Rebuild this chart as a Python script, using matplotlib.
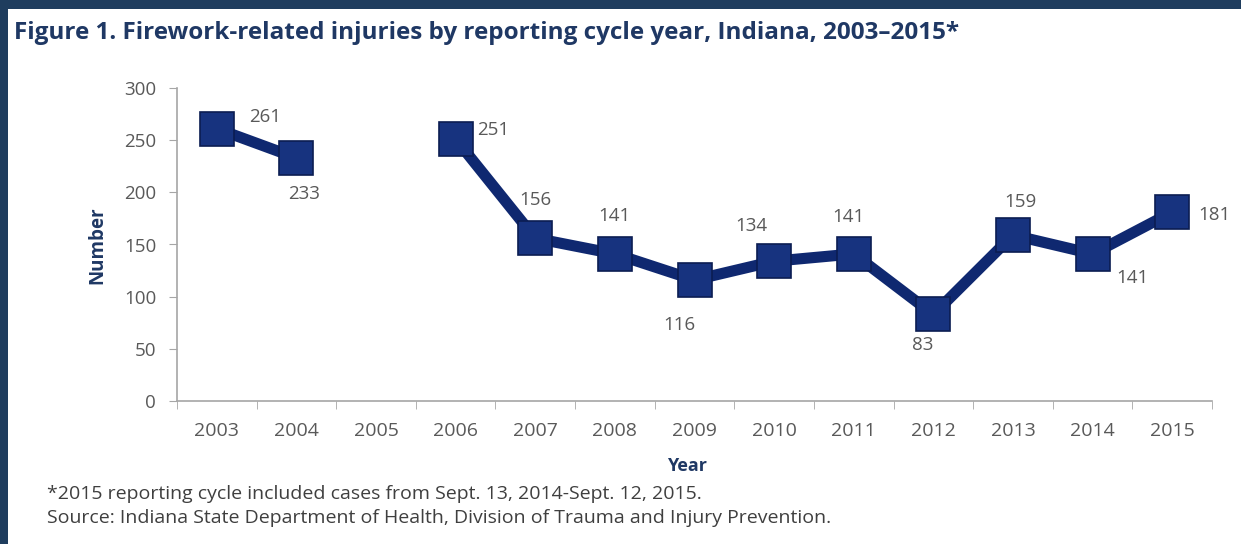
import numpy as np
import matplotlib
matplotlib.use("Agg")
import matplotlib.pyplot as plt
from matplotlib.patches import Rectangle

# Data
years = ["2003", "2004", "2005", "2006", "2007", "2008", "2009",
         "2010", "2011", "2012", "2013", "2014", "2015"]
injuries = [261, 233, None, 251, 156, 141, 116, 134, 141, 83, 159, 141, 181]
# label offsets (pixels) for each data label, as placed in the original
label_dx = [48, 8, 0, 38, 0, 0, -15, -23, -5, -11, 7, 40, 42]
label_dy = [12, -36, 0, 9, 38, 38, -45, 35, 37, -31, 33, -24, -3]

NAVY = "#1f3864"
FRAME = "#1f3d5e"
LINE = "#0f2870"
MARKER = "#17337f"
GRAY_TEXT = "#595959"
AXIS_GRAY = "#a6a6a6"

plt.rcParams["font.family"] = ["Open Sans", "DejaVu Sans"]

fig = plt.figure(figsize=(12.41, 5.44), dpi=100)
fig.patch.set_facecolor("white")

# dark frame along top and left edge
fig.add_artist(Rectangle((0, 1 - 9 / 544), 1, 9 / 544, transform=fig.transFigure,
                         facecolor=FRAME, edgecolor="none"))
fig.add_artist(Rectangle((0, 0), 8 / 1241, 1, transform=fig.transFigure,
                         facecolor=FRAME, edgecolor="none"))

ax = fig.add_axes([177 / 1241, 1 - 401 / 544, (1212 - 177) / 1241, (401 - 88) / 544])

x = np.arange(len(years))
y = np.array([np.nan if v is None else v for v in injuries], dtype=float)

ax.plot(x, y, color=LINE, linewidth=8, marker="s", markersize=24,
        markerfacecolor=MARKER, markeredgecolor="#0b1d52", markeredgewidth=1.2,
        solid_joinstyle="miter", zorder=3)

for xi, v, dx, dy in zip(x, injuries, label_dx, label_dy):
    if v is None:
        continue
    ax.annotate(str(v), (xi, v), xytext=(dx, dy), textcoords="offset pixels",
                ha="center", va="center", fontsize=13.5, color=GRAY_TEXT)

ax.set_xlim(-0.5, len(years) - 0.5)
ax.set_ylim(0, 300)
ax.set_yticks(range(0, 301, 50))
ax.set_xticks(x)
ax.set_xticklabels(years)
ax.set_xticks(np.arange(-0.5, len(years), 1.0), minor=True)
ax.tick_params(axis="x", which="major", length=0, pad=15, labelsize=14, labelcolor=GRAY_TEXT)
ax.tick_params(axis="x", which="minor", length=6, color=AXIS_GRAY, direction="out")
ax.tick_params(axis="y", length=6, color=AXIS_GRAY, pad=9, labelsize=13.5, labelcolor=GRAY_TEXT)

for side in ["top", "right"]:
    ax.spines[side].set_visible(False)
for side in ["left", "bottom"]:
    ax.spines[side].set_color(AXIS_GRAY)
    ax.spines[side].set_linewidth(1.2)
ax.set_facecolor("white")

fig.text(97 / 1241, 1 - 245 / 544, "Number", rotation=90, ha="center", va="center",
         fontsize=13.5, fontweight="bold", color=NAVY)
fig.text(687 / 1241, 1 - 466 / 544, "Year", ha="center", va="center",
         fontsize=13, fontweight="bold", color=NAVY)

fig.text(14 / 1241, 1 - 33 / 544,
         "Figure 1. Firework-related injuries by reporting cycle year, Indiana, 2003\u20132015*",
         ha="left", va="center", fontsize=17.5, fontweight="bold", color=NAVY)

fig.text(47 / 1241, 1 - 494 / 544,
         "*2015 reporting cycle included cases from Sept. 13, 2014-Sept. 12, 2015.",
         ha="left", va="center", fontsize=14, color="#3f3f3f")
fig.text(47 / 1241, 1 - 518 / 544,
         "Source: Indiana State Department of Health, Division of Trauma and Injury Prevention.",
         ha="left", va="center", fontsize=14, color="#3f3f3f")

fig.savefig("out.png", dpi=100)
